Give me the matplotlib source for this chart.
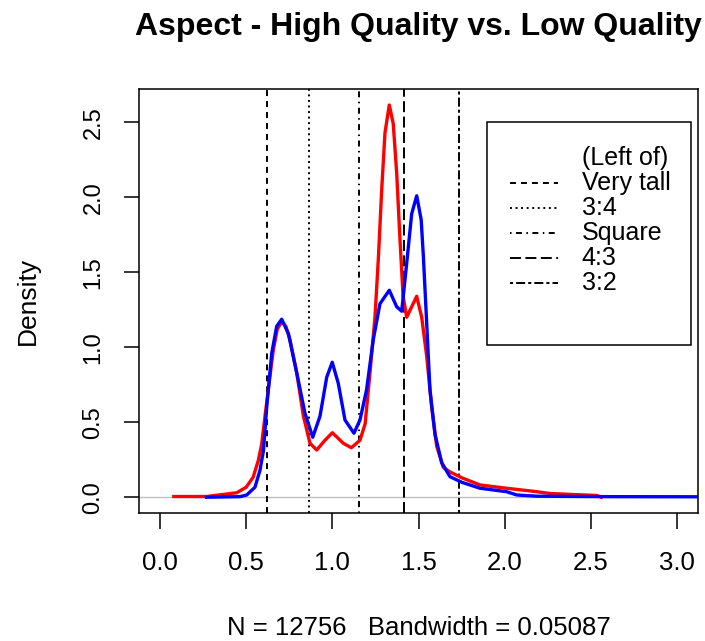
import matplotlib
matplotlib.use("Agg")
import matplotlib.pyplot as plt
from matplotlib.patches import Rectangle

plt.rcParams['font.family'] = ['Liberation Sans', 'DejaVu Sans']
plt.rcParams['lines.scale_dashes'] = False

# density curves
red_x = [0.08, 0.27, 0.39, 0.445, 0.50, 0.54, 0.57, 0.59, 0.61, 0.628, 0.657, 0.68,
         0.706, 0.73, 0.754, 0.793, 0.832, 0.87, 0.909, 0.957, 1.0, 1.063, 1.11,
         1.16, 1.19, 1.218, 1.247, 1.267, 1.286, 1.305, 1.33, 1.353, 1.373, 1.392,
         1.41, 1.431, 1.46, 1.489, 1.518, 1.547, 1.576, 1.605, 1.643, 1.68, 1.75,
         1.856, 2.01, 2.185, 2.262, 2.4, 2.533, 2.56]
red_y = [0.005, 0.005, 0.022, 0.03, 0.067, 0.133, 0.244, 0.355, 0.55, 0.715, 0.98, 1.12,
         1.17, 1.14, 1.05, 0.83, 0.54, 0.36, 0.315, 0.38, 0.43, 0.36, 0.33,
         0.38, 0.49, 0.83, 1.20, 1.60, 2.05, 2.43, 2.615, 2.49, 2.16, 1.72,
         1.34, 1.20, 1.27, 1.34, 1.20, 0.94, 0.60, 0.34, 0.20, 0.17, 0.13,
         0.082, 0.06, 0.037, 0.025, 0.018, 0.012, 0.0]

blue_x = [0.27, 0.464, 0.503, 0.551, 0.58, 0.60, 0.619, 0.648, 0.677, 0.706, 0.745,
          0.793, 0.841, 0.886, 0.928, 0.967, 0.999, 1.034, 1.073, 1.125, 1.16, 1.198,
          1.237, 1.276, 1.33, 1.373, 1.402, 1.431, 1.46, 1.489, 1.515, 1.528, 1.547,
          1.566, 1.595, 1.634, 1.682, 1.75, 1.856, 2.01, 2.07, 2.185, 2.6, 3.2]
blue_y = [0.0, 0.004, 0.015, 0.067, 0.18, 0.31, 0.60, 0.96, 1.14, 1.187, 1.09,
          0.83, 0.56, 0.40, 0.54, 0.80, 0.90, 0.76, 0.515, 0.427, 0.515, 0.715,
          1.05, 1.29, 1.38, 1.27, 1.24, 1.56, 1.89, 2.01, 1.85, 1.60, 1.16,
          0.715, 0.42, 0.23, 0.137, 0.10, 0.06, 0.037, 0.015, 0.007, 0.004, 0.003]

# aspect boundaries and their legend labels
cut_x = [0.62, 0.866, 1.155, 1.414, 1.732]
cut_names = ["Very tall", "3:4", "Square", "4:3", "3:2"]
cut_dashes = [(0, (4.3, 3.6)), (0, (1.4, 2.6)), (0, (1.1, 3.2, 4.3, 3.2)),
              (0, (7.9, 3.2)), (0, (2.2, 2.2, 6.5, 2.2))]

fig = plt.figure(figsize=(7.05, 6.41), dpi=100)
ax = fig.add_axes([0.1976, 0.1997, 0.7923, 0.6622])

ax.axhline(0, color='#BEBEBE', lw=1.0, zorder=1)
ax.plot(red_x, red_y, color='red', lw=2.4, zorder=3)
ax.plot(blue_x, blue_y, color='blue', lw=2.4, zorder=4)
for xv, ls in zip(cut_x, cut_dashes):
    ax.axvline(xv, color='black', lw=1.4, linestyle=ls, zorder=2)

ax.set_xlim(-0.12, 3.12)
ax.set_ylim(-0.105, 2.725)
ax.set_xticks([0.0, 0.5, 1.0, 1.5, 2.0, 2.5, 3.0])
ax.set_xticklabels(["0.0", "0.5", "1.0", "1.5", "2.0", "2.5", "3.0"], fontsize=18.5)
ax.set_yticks([0.0, 0.5, 1.0, 1.5, 2.0, 2.5])
ax.set_yticklabels(["0.0", "0.5", "1.0", "1.5", "2.0", "2.5"], fontsize=17,
                   rotation=90, va='center')
ax.tick_params(axis='x', length=11.5, width=1.1, pad=16)
ax.tick_params(axis='y', length=11, width=1.1, pad=14)
for sp in ax.spines.values():
    sp.set_linewidth(1.1)

# legend box drawn by hand
def axy(py):
    return 1 - (py - 88.5) / 424.5

ax.add_patch(Rectangle((0.623, axy(345)), 0.364, axy(121.7) - axy(345),
                       transform=ax.transAxes, fill=False, ec='black', lw=1.1, zorder=5))
ax.text(0.792, axy(158), "(Left of)", transform=ax.transAxes, fontsize=18,
        va='center', ha='left')
item_py = [183, 208, 233, 258, 283]
for py, name, ls in zip(item_py, cut_names, cut_dashes):
    yy = axy(py)
    ax.plot([0.664, 0.750], [yy, yy], transform=ax.transAxes, color='black',
            lw=1.4, linestyle=ls, zorder=5)
    ax.text(0.792, yy, name, transform=ax.transAxes, fontsize=18,
            va='center', ha='left')

fig.text(0.5938, 1 - 35 / 641, "Aspect - High Quality vs. Low Quality",
         fontsize=23, fontweight='bold', ha='center', va='baseline')
fig.text(0.5938, 1 - 635 / 641, "N = 12756   Bandwidth = 0.05087",
         fontsize=18.5, ha='center', va='baseline')
fig.text(28.3 / 705, 1 - 300.7 / 641, "Density", fontsize=19, rotation=90,
         ha='center', va='center')

fig.savefig("out.png", dpi=100)
